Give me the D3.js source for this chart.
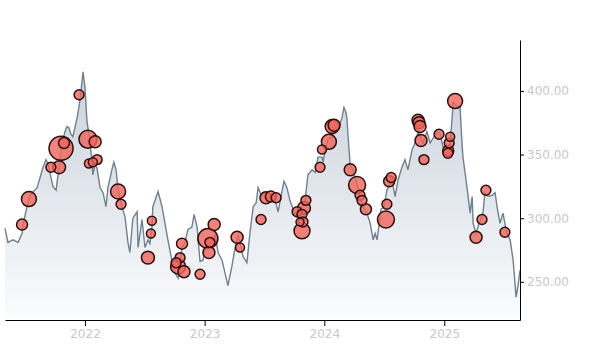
<!DOCTYPE html>
<html>
<head>
<meta charset="utf-8">
<script src="https://cdn.jsdelivr.net/npm/d3@7"></script>
<style>
  body { margin: 0; background: #fff; }
  svg { display: block; font-family: "DejaVu Sans", sans-serif; }
</style>
</head>
<body>
<div id="chart"></div>
<script>
// price series
var priceDates = [
  "2021-05-02","2021-05-11","2021-05-26","2021-06-11","2021-06-23","2021-06-26","2021-07-08","2021-07-17",
  "2021-08-08","2021-08-26","2021-09-04","2021-09-10","2021-09-25","2021-10-05","2021-10-11","2021-10-23",
  "2021-11-01","2021-11-07","2021-11-13","2021-11-19","2021-11-25","2021-12-08","2021-12-17","2021-12-26",
  "2022-01-01","2022-01-07","2022-01-13","2022-01-22","2022-01-25","2022-02-01","2022-02-07","2022-02-16",
  "2022-02-25","2022-03-06","2022-03-12","2022-03-24","2022-03-30","2022-04-06","2022-04-12","2022-04-24",
  "2022-05-03","2022-05-12","2022-05-18","2022-05-27","2022-06-09","2022-06-12","2022-06-24","2022-07-03",
  "2022-07-12","2022-07-18","2022-07-24","2022-07-27","2022-08-12","2022-08-24","2022-09-02","2022-09-11",
  "2022-09-23","2022-10-03","2022-10-12","2022-10-24","2022-11-02","2022-11-11","2022-11-23","2022-11-30",
  "2022-12-09","2022-12-12","2022-12-18","2022-12-27","2023-01-02","2023-01-17","2023-02-02","2023-02-11",
  "2023-02-23","2023-03-04","2023-03-13","2023-03-25","2023-04-04","2023-04-13","2023-04-28","2023-05-10",
  "2023-05-19","2023-05-29","2023-06-07","2023-06-13","2023-06-25","2023-06-28","2023-07-19","2023-08-04",
  "2023-08-13","2023-08-25","2023-08-31","2023-09-09","2023-09-18","2023-09-28","2023-10-10","2023-10-25",
  "2023-11-03","2023-11-12","2023-11-25","2023-12-04","2023-12-13","2023-12-25","2023-12-28","2024-01-03",
  "2024-01-12","2024-01-25","2024-02-03","2024-02-12","2024-02-24","2024-03-01","2024-03-07","2024-03-10",
  "2024-03-13","2024-03-20","2024-03-29","2024-04-10","2024-04-19","2024-04-28","2024-05-10","2024-05-20",
  "2024-05-29","2024-06-04","2024-06-10","2024-06-22","2024-07-01","2024-07-10","2024-07-23","2024-07-29",
  "2024-08-04","2024-08-13","2024-08-25","2024-09-03","2024-09-12","2024-09-25","2024-10-04","2024-10-13",
  "2024-10-28","2024-11-09","2024-11-19","2024-11-28","2024-12-10","2024-12-19","2024-12-28","2025-01-09",
  "2025-01-19","2025-01-25","2025-01-28","2025-02-09","2025-02-18","2025-02-24","2025-02-27","2025-03-11",
  "2025-03-21","2025-03-27","2025-03-30","2025-04-08","2025-04-17","2025-04-29","2025-05-05","2025-05-15",
  "2025-05-27","2025-06-05","2025-06-11","2025-06-20","2025-06-29","2025-07-11","2025-07-21","2025-07-30",
  "2025-08-08","2025-08-14","2025-08-20"
];
var priceValues = [
  292,281,283,281,288,295,309,318,
  324,340,346,343,325,322,335,359,
  368,372,371,366,364,379,393,415,
  403,376,366,346,334,343,339,324,
  320,309,324,338,344,338,322,309,
  301,281,273,300,305,277,299,277,
  283,280,292,309,321,309,296,283,
  267,257,253,277,281,291,293,303,
  293,283,266,267,277,280,287,273,
  267,257,247,262,277,287,270,265,
  288,309,312,324,317,320,317,314,
  305,321,329,324,314,307,301,309,
  313,334,338,336,348,348,344,352,
  362,364,372,370,379,387,383,379,
  366,342,338,326,317,309,304,296,
  283,288,283,307,309,322,330,325,
  317,330,340,346,338,354,359,368,
  359,368,359,363,368,367,356,354,
  359,379,391,388,388,359,348,325,
  304,317,296,288,296,304,320,317,
  318,320,309,296,304,288,283,267,
  238,247,259
];

// event markers
var eventDates = [
  "2021-06-23","2021-07-14","2021-09-19","2021-10-14","2021-10-20","2021-10-29","2021-12-14","2022-01-10",
  "2022-02-01","2022-01-13","2022-01-25","2022-02-07","2022-04-12","2022-04-21","2022-07-12","2022-07-21",
  "2022-07-24","2022-10-24","2022-10-18","2022-10-12","2022-10-30","2022-10-06","2022-12-18","2023-01-11",
  "2023-01-17","2023-01-14","2023-01-30","2023-04-10","2023-04-19","2023-06-22","2023-07-07","2023-07-22",
  "2023-08-07","2023-10-10","2023-10-25","2023-10-31","2023-11-06","2023-10-19","2023-10-28","2023-10-25",
  "2023-12-19","2023-12-25","2024-01-15","2024-01-25","2024-01-31","2024-03-20","2024-04-10","2024-04-19",
  "2024-04-25","2024-05-07","2024-07-10","2024-07-07","2024-07-17","2024-07-23","2024-10-13","2024-10-16",
  "2024-10-19","2024-10-22","2024-10-31","2024-12-16","2025-01-19","2025-01-16","2025-01-13","2025-01-12",
  "2025-02-03","2025-04-08","2025-04-26","2025-05-08","2025-07-05"
];
var eventValues = [
  295,315,340,340,355,359,397,362,
  360,343,344,346,321,311,269,288,
  298,280,269,262,258,265,256,284,
  281,273,295,285,277,299,316,317,
  316,305,303,308,314,297,297,290,
  340,354,360,372,373,338,326,318,
  314,307,311,299,329,332,377,375,
  372,361,346,366,364,359,353,351,
  392,285,299,322,289
];
var eventSizes = [
  21,39,17,29,100,21,17,56,
  25,14,14,17,39,17,29,14,
  14,21,17,39,25,17,17,69,
  17,25,25,25,14,17,25,21,
  17,17,17,29,17,11,17,44,
  17,14,39,34,25,25,50,17,
  17,21,17,50,21,17,25,25,
  25,25,17,17,14,17,21,17,
  39,25,17,17,17
];

var yTickValues = [250, 300, 350, 400];

var width = 600, height = 350;
var margin = {top: 40, right: 80, bottom: 30, left: 5};

var parse = d3.timeParse("%Y-%m-%d");
var prices = priceDates.map(function(d, i) { return {date: parse(d), value: priceValues[i]}; });
var events = eventDates.map(function(d, i) {
  return {date: parse(d), value: eventValues[i], size: eventSizes[i]};
});

var x = d3.scaleTime()
  .domain(d3.extent(prices, function(d) { return d.date; }))
  .range([margin.left, width - margin.right]);

var y = d3.scaleLinear()
  .domain([220, 440])
  .range([height - margin.bottom, margin.top]);

var r = d3.scaleSqrt().domain([0, 100]).range([0, 12]);

var svg = d3.select("#chart").append("svg")
  .attr("width", width)
  .attr("height", height);

// gradient under the line
var grad = svg.append("defs").append("linearGradient")
  .attr("id", "areaFill")
  .attr("gradientUnits", "userSpaceOnUse")
  .attr("x1", 0).attr("x2", 0)
  .attr("y1", y(420)).attr("y2", y(220));
grad.append("stop").attr("offset", "0%").attr("stop-color", "#c9d1db");
grad.append("stop").attr("offset", "100%").attr("stop-color", "#fbfcfd");

var area = d3.area()
  .x(function(d) { return x(d.date); })
  .y0(y(220))
  .y1(function(d) { return y(d.value); });

var line = d3.line()
  .x(function(d) { return x(d.date); })
  .y(function(d) { return y(d.value); });

svg.append("path")
  .datum(prices)
  .attr("fill", "url(#areaFill)")
  .attr("d", area);

svg.append("path")
  .datum(prices)
  .attr("fill", "none")
  .attr("stroke", "#6f8090")
  .attr("stroke-width", 1.4)
  .attr("d", line);

// markers, big ones first so the small ones sit on top
svg.append("g")
  .selectAll("circle")
  .data(events.slice().sort(function(a, b) { return b.size - a.size; }))
  .enter().append("circle")
  .attr("cx", function(d) { return x(d.date); })
  .attr("cy", function(d) { return y(d.value); })
  .attr("r", function(d) { return r(d.size); })
  .attr("fill", "#ef645a")
  .attr("fill-opacity", 0.8)
  .attr("stroke", "#2b0f0f")
  .attr("stroke-width", 1.5);

// axes
var xAxis = svg.append("g")
  .attr("transform", "translate(0," + (height - margin.bottom) + ")")
  .call(d3.axisBottom(x).ticks(d3.timeYear.every(1)).tickFormat(d3.timeFormat("%Y")).tickSizeOuter(0));

var yAxis = svg.append("g")
  .attr("transform", "translate(" + (width - margin.right) + ",0)")
  .call(d3.axisRight(y).tickValues(yTickValues).tickFormat(d3.format(".2f")).tickSize(4).tickSizeOuter(0));

[xAxis, yAxis].forEach(function(a) {
  a.selectAll("text").attr("fill", "#c8c8c8").attr("font-size", 12).attr("font-family", "DejaVu Sans, sans-serif");
  a.selectAll("line").attr("stroke", "#000");
  a.select(".domain").attr("stroke", "#000");
});
</script>
</body>
</html>
